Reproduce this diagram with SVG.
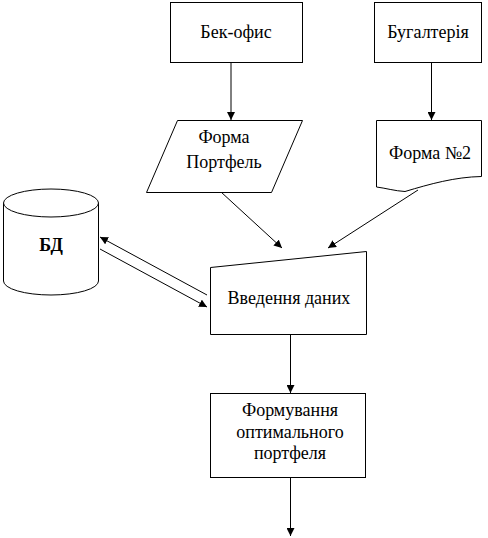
<svg xmlns="http://www.w3.org/2000/svg" width="488" height="538" viewBox="0 0 488 538">
<style>
.s{fill:#fff;stroke:#000;stroke-width:1}
.t{font-family:'Liberation Serif','Times New Roman',serif;font-size:18px;fill:#000;text-anchor:middle}
.c{fill:none;stroke:#000;stroke-width:1}
</style>
<defs>
<marker id="a" viewBox="0 0 10 10" refX="10" refY="5" markerWidth="8" markerHeight="8" markerUnits="userSpaceOnUse" orient="auto">
<path d="M0,0 L10,5 L0,10 Z" fill="#000"/>
</marker>
</defs>
<rect width="488" height="538" fill="#fff"/>
<g id="connectors">
<line class="c" x1="231" y1="62" x2="231" y2="120" marker-end="url(#a)"/>
<line class="c" x1="431.5" y1="62" x2="431.5" y2="120" marker-end="url(#a)"/>
<line class="c" x1="221" y1="192" x2="282" y2="248" marker-end="url(#a)"/>
<line class="c" x1="418" y1="190" x2="328" y2="248" marker-end="url(#a)"/>
<line class="c" x1="207" y1="295" x2="100" y2="237" marker-end="url(#a)"/>
<line class="c" x1="100" y1="249" x2="207" y2="307" marker-end="url(#a)"/>
<line class="c" x1="290.5" y1="334" x2="290.5" y2="393" marker-end="url(#a)"/>
<line class="c" x1="290.5" y1="477" x2="290.5" y2="536" marker-end="url(#a)"/>
</g>
<g id="backoffice">
<rect class="s" x="170.5" y="2.5" width="132" height="60"/>
<text class="t" x="236" y="38">Бек-офис</text>
</g>
<g id="accounting">
<rect class="s" x="374.5" y="2.5" width="107" height="60"/>
<text class="t" x="428" y="38">Бугалтерія</text>
</g>
<g id="form-portfolio">
<polygon class="s" points="177.5,120.5 302.5,120.5 271.5,192.5 146.5,192.5"/>
<text class="t" x="224" y="143">Форма</text>
<text class="t" x="224" y="168">Портфель</text>
</g>
<g id="form2">
<path class="s" d="M376.5,120.5 H481.5 V176.5 C455,177 430,184 405,191.5 C395,191 385,188 376.5,187 Z"/>
<text class="t" x="430" y="159">Форма №2</text>
</g>
<g id="db">
<path class="s" d="M3.5,203 V281 A47.5,14 0 0 0 98.5,281 V203"/>
<ellipse class="s" cx="51" cy="203" rx="47.5" ry="14"/>
<text class="t" x="51" y="251" font-weight="bold">БД</text>
</g>
<g id="data-entry">
<polygon class="s" points="210.5,267.5 366.5,251.5 366.5,334.5 210.5,334.5"/>
<text class="t" x="289" y="304">Введення даних</text>
</g>
<g id="optimize">
<rect class="s" x="210.5" y="393.5" width="155" height="84"/>
<text class="t" x="290" y="416">Формування</text>
<text class="t" x="290" y="438">оптимального</text>
<text class="t" x="290" y="459">портфеля</text>
</g>
</svg>
